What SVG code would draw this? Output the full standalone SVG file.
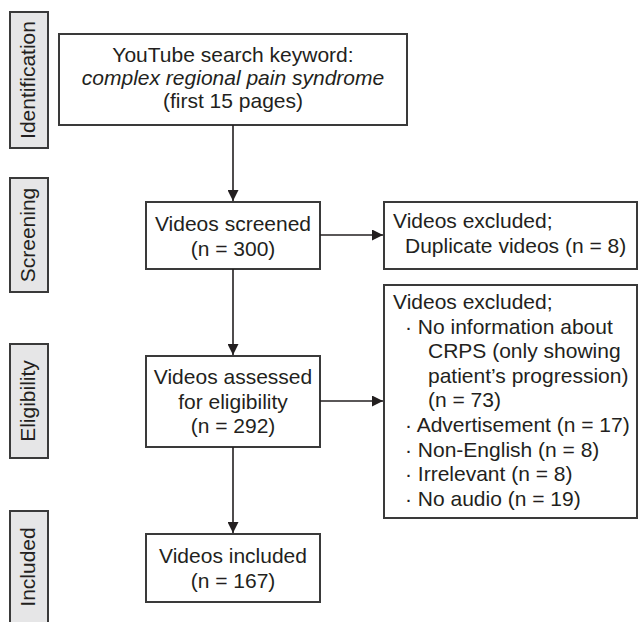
<svg xmlns="http://www.w3.org/2000/svg" width="640" height="622" viewBox="0 0 640 622">
<style>
text{font-family:"Liberation Sans",Arial,sans-serif;font-size:21px;fill:#231f20}
.box{fill:#fff;stroke:#3a3a3a;stroke-width:2}
.lab{fill:#e6e6e7;stroke:#3a3a3a;stroke-width:2}
.c{text-anchor:middle}
.ln{stroke:#231f20;stroke-width:1.6;fill:none}
</style>
<defs>
<marker id="ah" viewBox="0 0 10 10" refX="10" refY="5" markerWidth="11" markerHeight="11" markerUnits="userSpaceOnUse" orient="auto">
<path d="M0,0 L10,5 L0,10 z" fill="#231f20"/>
</marker>
</defs>
<rect width="640" height="622" fill="#fff"/>
<g id="label-identification"><rect class="lab" x="10" y="12" width="38" height="136"/><text class="c" transform="translate(34.5,80) rotate(-90)">Identification</text></g>
<g id="label-screening"><rect class="lab" x="10" y="178" width="38" height="114"/><text class="c" transform="translate(34.5,235) rotate(-90)">Screening</text></g>
<g id="label-eligibility"><rect class="lab" x="10" y="344" width="38" height="114"/><text class="c" transform="translate(34.5,401) rotate(-90)">Eligibility</text></g>
<g id="label-included"><rect class="lab" x="10" y="511" width="38" height="120"/><text class="c" transform="translate(34.5,567) rotate(-90)">Included</text></g>
<g id="identification"><rect class="box" x="59" y="34" width="348" height="91"/>
<text class="c" x="233" y="62">YouTube search keyword:</text>
<text class="c" x="233" y="85" font-style="italic">complex regional pain syndrome</text>
<text class="c" x="233" y="108">(first 15 pages)</text></g>
<g id="screened"><rect class="box" x="146" y="202" width="174" height="67"/>
<text class="c" x="233" y="231">Videos screened</text>
<text class="c" x="233" y="256">(n = 300)</text></g>
<g id="excluded1"><rect class="box" x="384" y="202" width="253" height="67"/>
<text x="393" y="228">Videos excluded;</text>
<text x="405" y="253">Duplicate videos (n = 8)</text></g>
<g id="eligibility"><rect class="box" x="146" y="356" width="174" height="91"/>
<text class="c" x="233" y="384">Videos assessed</text>
<text class="c" x="233" y="409">for eligibility</text>
<text class="c" x="233" y="433">(n = 292)</text></g>
<g id="excluded2"><rect class="box" x="384" y="285" width="253" height="233"/>
<text x="393" y="309">Videos excluded;</text>
<text x="405" y="334">· No information about</text>
<text x="428" y="358">CRPS (only showing</text>
<text x="428" y="383">patient’s progression)</text>
<text x="428" y="407">(n = 73)</text>
<text x="405" y="432">· Advertisement (n = 17)</text>
<text x="405" y="457">· Non-English (n = 8)</text>
<text x="405" y="481">· Irrelevant (n = 8)</text>
<text x="405" y="506">· No audio (n = 19)</text></g>
<g id="included"><rect class="box" x="146" y="534" width="174" height="68"/>
<text class="c" x="233" y="563">Videos included</text>
<text class="c" x="233" y="588">(n = 167)</text></g>
<g id="connectors">
<line class="ln" x1="233" y1="125" x2="233" y2="201" marker-end="url(#ah)"/>
<line class="ln" x1="233" y1="269" x2="233" y2="355" marker-end="url(#ah)"/>
<line class="ln" x1="233" y1="447" x2="233" y2="533" marker-end="url(#ah)"/>
<line class="ln" x1="320" y1="235" x2="383" y2="235" marker-end="url(#ah)"/>
<line class="ln" x1="320" y1="401" x2="383" y2="401" marker-end="url(#ah)"/>
</g>
</svg>
